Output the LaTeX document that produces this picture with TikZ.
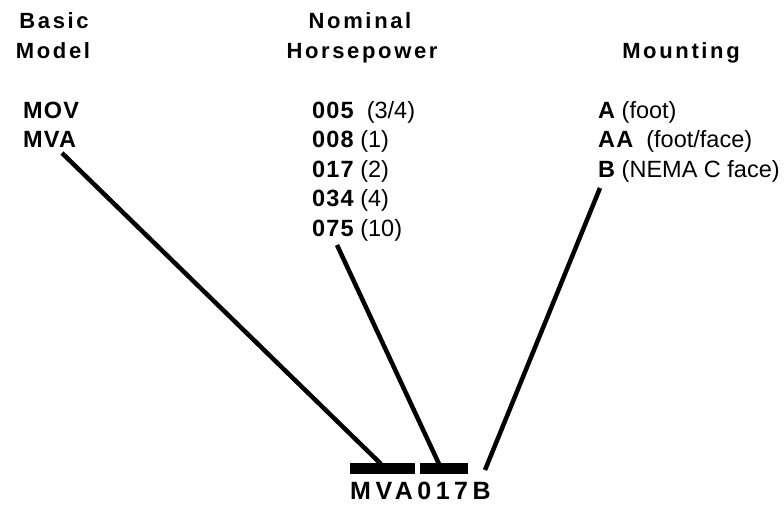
\documentclass[tikz,border=0pt]{standalone}
\usepackage{fontspec}
\setmainfont{Liberation Sans}
\newfontfamily\headfont[LetterSpace=12]{Liberation Sans}
\newfontfamily\codefont[LetterSpace=5]{Liberation Sans}
\newfontfamily\modelfont[LetterSpace=18]{Liberation Sans}
\begin{document}
\begin{tikzpicture}[x=1pt,y=-1pt,
  head/.style={font=\headfont\bfseries\fontsize{22}{26}\selectfont, anchor=base, inner sep=0pt},
  item/.style={font=\fontsize{23.5}{28}\selectfont, anchor=base west, inner sep=0pt},
  conn/.style={line width=4.5pt},
  barbox/.style={fill=black, inner sep=0pt, anchor=north west}]
\useasboundingbox (0,0) rectangle (784,507);

% column headings
\node[head] (h1a) at (54,28) {Basic};
\node[head] (h1b) at (53,58) {Model};
\node[head] (h2a) at (360,28) {Nominal};
\node[head] (h2b) at (362,58) {Horsepower};
\node[head] (h3b) at (681,58) {Mounting};

% basic model
\node[item] (mov) at (23,118) {\codefont\bfseries MOV};
\node[item] (mva) at (23,147) {\codefont\bfseries MVA};

% horsepower codes
\node[item] (hp1) at (312,118) {{\codefont\bfseries 005}\ \ (3/4)};
\node[item] (hp2) at (312,147) {{\codefont\bfseries 008}\ (1)};
\node[item] (hp3) at (312,177) {{\codefont\bfseries 017}\ (2)};
\node[item] (hp4) at (312,206) {{\codefont\bfseries 034}\ (4)};
\node[item] (hp5) at (312,236) {{\codefont\bfseries 075}\ (10)};

% mounting codes
\node[item] (mt1) at (598,118) {{\codefont\bfseries A}\ (foot)};
\node[item] (mt2) at (598,147) {{\codefont\bfseries AA}\ \ (foot/face)};
\node[item] (mt3) at (598,177) {{\codefont\bfseries B}\ (NEMA C face)};

% assembled model number
\node[barbox, minimum width=65pt, minimum height=11pt] (bar1) at (350,463) {};
\node[barbox, minimum width=48pt, minimum height=11pt] (bar2) at (420,463) {};
\node[font=\modelfont\bfseries\fontsize{25}{29}\selectfont, anchor=base west, inner sep=0pt] (code) at (350,499) {MVA017B};

% leader lines
\coordinate (s1) at (62,153);
\coordinate (s2) at (337,245);
\coordinate (s3) at (600,188);
\coordinate (e1) at (381,464);
\coordinate (e2) at (439,464);
\coordinate (e3) at (485,470);
\draw[conn] (s1) -- (e1);
\draw[conn] (s2) -- (e2);
\draw[conn] (s3) -- (e3);
\end{tikzpicture}
\end{document}
